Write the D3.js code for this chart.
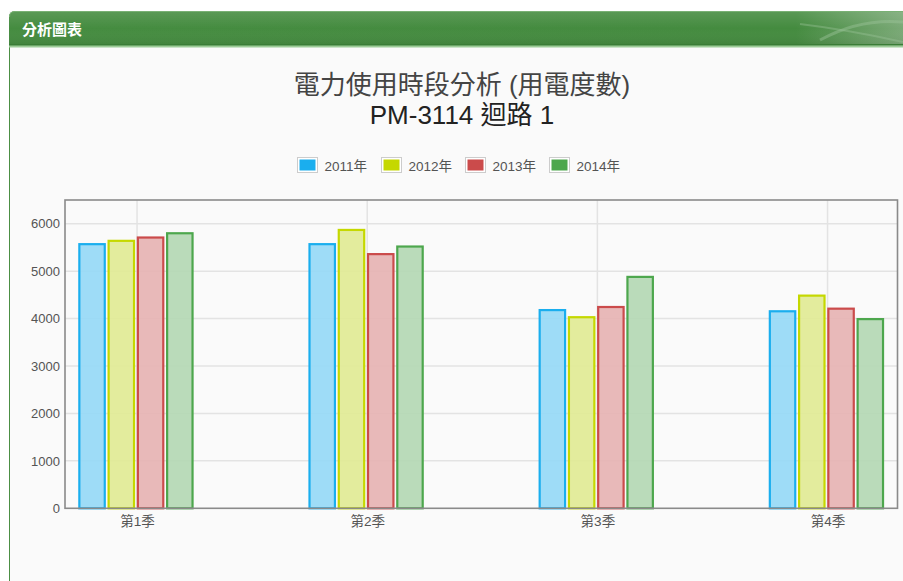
<!DOCTYPE html>
<html>
<head>
<meta charset="utf-8">
<script src="https://cdn.jsdelivr.net/npm/d3@7"></script>
<style>
  html, body { margin: 0; padding: 0; background: #ffffff; }
  svg { display: block; font-family: "Liberation Sans", Arial, "Noto Sans CJK TC", sans-serif; }
</style>
</head>
<body>
<svg id="chart" width="903" height="581"></svg>
<script>
// Quarterly electricity usage (kWh) per year
const categories = ["第1季", "第2季", "第3季", "第4季"];
const seriesNames = ["2011年", "2012年", "2013年", "2014年"];
const values2011 = [5590, 5590, 4200, 4175];
const values2012 = [5660, 5890, 4050, 4505];
const values2013 = [5730, 5380, 4265, 4230];
const values2014 = [5820, 5540, 4900, 4010];
const yTicks = [0, 1000, 2000, 3000, 4000, 5000, 6000];
const strokeColors = ["#1aaeee", "#c5d800", "#cb4b4b", "#4da74d"];
const fillColors = ["#97d9f6", "#e1eb96", "#e6b4b4", "#b5d8b5"];

const seriesValues = [values2011, values2012, values2013, values2014];

const svg = d3.select("#chart");
const W = 903, H = 581;

// Panel background and frame
svg.append("rect").attr("x", 9).attr("y", 11).attr("width", W - 9).attr("height", H - 11)
  .attr("fill", "#fafafa");
svg.append("line").attr("x1", 9.5).attr("x2", 9.5).attr("y1", 20).attr("y2", H)
  .attr("stroke", "#4c8f44").attr("stroke-width", 1);

// Header bar
const defs = svg.append("defs");
const hg = defs.append("linearGradient").attr("id", "hdr").attr("x1", 0).attr("x2", 1).attr("y1", 0).attr("y2", 0);
hg.append("stop").attr("offset", "0%").attr("stop-color", "#458c40");
hg.append("stop").attr("offset", "88%").attr("stop-color", "#448b3f");
hg.append("stop").attr("offset", "100%").attr("stop-color", "#7aa976");
const hv = defs.append("linearGradient").attr("id", "hdrShade").attr("x1", 0).attr("x2", 0).attr("y1", 0).attr("y2", 1);
hv.append("stop").attr("offset", "0%").attr("stop-color", "#ffffff").attr("stop-opacity", 0.12);
hv.append("stop").attr("offset", "50%").attr("stop-color", "#ffffff").attr("stop-opacity", 0);
hv.append("stop").attr("offset", "100%").attr("stop-color", "#000000").attr("stop-opacity", 0.08);

svg.append("path")
  .attr("d", `M9,46 L9,17 Q9,11 15,11 L${W},11 L${W},46 Z`)
  .attr("fill", "url(#hdr)");
svg.append("path")
  .attr("d", `M9,46 L9,17 Q9,11 15,11 L${W},11 L${W},46 Z`)
  .attr("fill", "url(#hdrShade)");
svg.append("path")
  .attr("d", `M9.5,17 Q9.5,11.5 15,11.5 L${W},11.5`)
  .attr("fill", "none").attr("stroke", "#79b174").attr("stroke-width", 1);
// decorative swoosh on the right side of the header
svg.append("path").attr("d", "M820,40 Q860,18 903,22").attr("fill", "none")
  .attr("stroke", "#9cc498").attr("stroke-opacity", 0.45).attr("stroke-width", 3);
svg.append("path").attr("d", "M800,24 Q850,30 903,42").attr("fill", "none")
  .attr("stroke", "#9cc498").attr("stroke-opacity", 0.4).attr("stroke-width", 2);
svg.append("rect").attr("x", 9).attr("y", 44).attr("width", W - 9).attr("height", 1.5).attr("fill", "#3a7d36");
svg.append("rect").attr("x", 9).attr("y", 45.5).attr("width", W - 9).attr("height", 2).attr("fill", "#9ccb97");

svg.append("text").attr("x", 22).attr("y", 35)
  .attr("fill", "#ffffff").attr("font-size", 15).attr("font-weight", "bold")
  .text("分析圖表");

// Titles
svg.append("text").attr("x", 462).attr("y", 94).attr("text-anchor", "middle")
  .attr("fill", "#444").attr("font-size", 26).text("電力使用時段分析 (用電度數)");
svg.append("text").attr("x", 462).attr("y", 124).attr("text-anchor", "middle")
  .attr("fill", "#222").attr("font-size", 26).text("PM-3114 迴路 1");

// Legend
const legend = svg.append("g").selectAll("g").data(seriesNames).join("g")
  .attr("transform", (d, i) => `translate(${297.5 + i * 84},157.5)`);
legend.append("rect").attr("width", 20).attr("height", 15)
  .attr("fill", "#fff").attr("stroke", "#cccccc");
legend.append("rect").attr("x", 2).attr("y", 2).attr("width", 16).attr("height", 11)
  .attr("fill", (d, i) => strokeColors[i]);
legend.append("text").attr("x", 27).attr("y", 13).attr("font-size", 13.5).attr("fill", "#545454")
  .text(d => d);

// Scales
const plotLeft = 65, plotRight = 897.5, plotTop = 200, plotBottom = 508.3;
const x = d3.scaleLinear().domain([-0.313, 3.304]).range([plotLeft, plotRight]);
const y = d3.scaleLinear().domain([0, 6500]).range([plotBottom, plotTop]);
const xInner = d3.scaleBand().domain(d3.range(seriesNames.length))
  .range([-58.7, 56.5]).paddingInner(0.0625);

// Grid
const grid = svg.append("g");
grid.selectAll("line.h").data(yTicks.filter(t => t > 0)).join("line")
  .attr("x1", plotLeft).attr("x2", plotRight)
  .attr("y1", d => y(d)).attr("y2", d => y(d))
  .attr("stroke", "#e3e3e3").attr("stroke-width", 1.5);
grid.selectAll("line.v").data(categories).join("line")
  .attr("x1", (d, i) => x(i)).attr("x2", (d, i) => x(i))
  .attr("y1", plotTop).attr("y2", plotBottom)
  .attr("stroke", "#e3e3e3").attr("stroke-width", 1.5);

// Bars
const bars = svg.append("g");
seriesValues.forEach((vals, s) => {
  bars.selectAll(null).data(vals).join("rect")
    .attr("x", (d, i) => x(i) + xInner(s) + 1)
    .attr("width", xInner.bandwidth() - 2)
    .attr("y", d => y(d) + 1)
    .attr("height", d => y(0) - y(d) - 1)
    .attr("fill", fillColors[s])
    .attr("fill-opacity", 0.93)
    .attr("stroke", strokeColors[s])
    .attr("stroke-width", 2.2);
});

// Plot frame
svg.append("rect").attr("x", plotLeft).attr("y", plotTop)
  .attr("width", plotRight - plotLeft).attr("height", plotBottom - plotTop)
  .attr("fill", "none").attr("stroke", "#8a8a8a").attr("stroke-width", 1.6);

// Axes
const yAxis = d3.axisLeft(y).tickValues(yTicks).tickFormat(d3.format("d")).tickSize(0).tickPadding(5);
const gy = svg.append("g").attr("transform", `translate(${plotLeft},0)`).call(yAxis);
gy.select(".domain").remove();
gy.selectAll("text").attr("font-size", 13).attr("fill", "#545454")
  .attr("font-family", "\"Liberation Sans\", Arial, sans-serif");

const xAxis = d3.axisBottom(x).tickValues(d3.range(categories.length))
  .tickFormat(i => categories[i]).tickSize(0).tickPadding(8);
const gx = svg.append("g").attr("transform", `translate(0,${plotBottom})`).call(xAxis);
gx.select(".domain").remove();
gx.selectAll("text").attr("font-size", 13.5).attr("fill", "#545454")
  .attr("font-family", "\"Liberation Sans\", Arial, \"Noto Sans CJK TC\", sans-serif");
</script>
</body>
</html>
